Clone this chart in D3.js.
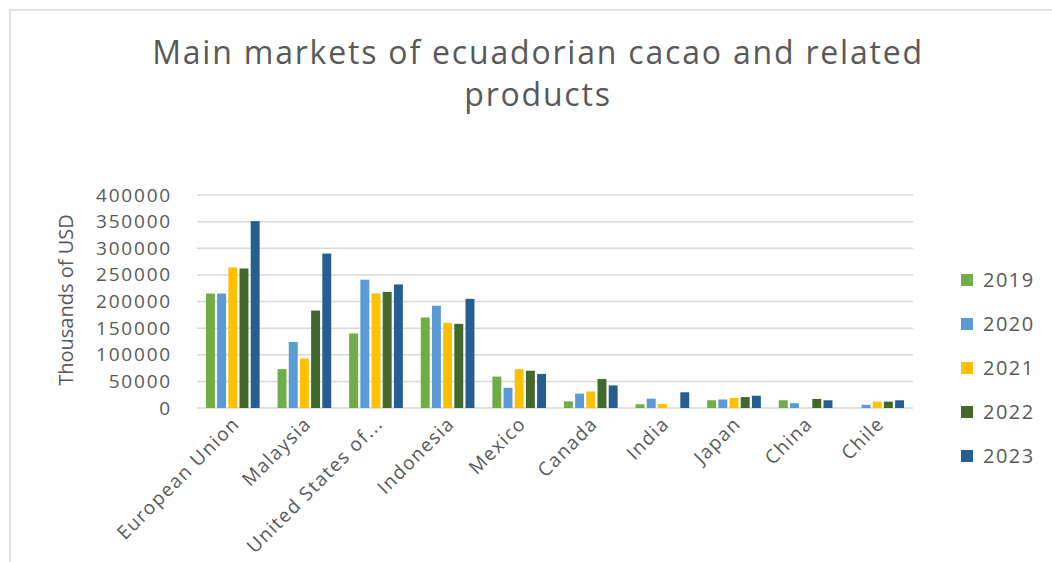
<!DOCTYPE html>
<html>
<head>
<meta charset="utf-8">
<script src="https://cdn.jsdelivr.net/npm/d3@7"></script>
<style>
  body { margin: 0; background: #fff; }
  text { font-family: "Open Sans", sans-serif; fill: #595959; }
</style>
</head>
<body>
<div id="chart"></div>
<script>
// data (thousands of USD)
const categories = ["European Union", "Malaysia", "United States of...", "Indonesia", "Mexico",
  "Canada", "India", "Japan", "China", "Chile"]
const years = ["2019", "2020", "2021", "2022", "2023"]
const v2019 = [215000, 73000, 140000, 170000, 59000, 12500, 7000, 14500, 14500, 0]
const v2020 = [215000, 124000, 241000, 192000, 38000, 27000, 17500, 16000, 9000, 6000]
const v2021 = [264000, 93000, 215000, 160000, 73000, 31000, 7500, 19000, 0, 12000]
const v2022 = [262000, 183000, 218000, 158000, 70000, 54500, 0, 20500, 17000, 12000]
const v2023 = [351000, 290000, 232000, 205000, 64000, 42500, 29500, 23000, 14500, 14500]
const yTicks = [0, 50000, 100000, 150000, 200000, 250000, 300000, 350000, 400000]
const colors = ["#70AD47", "#5B9BD5", "#FFC000", "#43682B", "#255E91"]

const seriesValues = [v2019, v2020, v2021, v2022, v2023]

const W = 1052, H = 562
const plot = { left: 197, right: 913, top: 195, bottom: 408 }

const svg = d3.select("#chart").append("svg")
  .attr("width", W)
  .attr("height", H)

// chart frame (only top and left edges are visible in the picture)
svg.append("path")
  .attr("d", `M10,${H} V10 H${W}`)
  .attr("fill", "none")
  .attr("stroke", "#d9d9d9")
  .attr("stroke-width", 1.5)

// title
const title = svg.append("text")
  .attr("text-anchor", "middle")
  .attr("font-size", 32)
  .attr("letter-spacing", 1.8)
title.append("tspan").attr("x", 538).attr("y", 64).text("Main markets of ecuadorian cacao and related")
title.append("tspan").attr("x", 538).attr("y", 106).text("products")

const x = d3.scaleBand()
  .domain(categories)
  .range([plot.left, plot.right])
  .paddingInner(0.25)
  .paddingOuter(0.125)

const xs = d3.scaleBand()
  .domain(years)
  .range([0, x.bandwidth()])
  .paddingInner(0.2)

const y = d3.scaleLinear()
  .domain([0, 400000])
  .range([plot.bottom, plot.top])

// grid lines
svg.append("g")
  .selectAll("line")
  .data(yTicks)
  .join("line")
  .attr("x1", plot.left)
  .attr("x2", plot.right)
  .attr("y1", d => y(d))
  .attr("y2", d => y(d))
  .attr("stroke", "#d9d9d9")
  .attr("stroke-width", 1.5)

// y axis labels
const yAxis = d3.axisLeft(y).tickValues(yTicks).tickFormat(d3.format("d")).tickSize(0).tickPadding(0)
const yG = svg.append("g")
  .attr("transform", "translate(172,0)")
  .call(yAxis)
yG.select(".domain").remove()
yG.selectAll("text")
  .attr("font-size", 19)
  .attr("letter-spacing", 1.8)
  .attr("font-family", "Open Sans")
  .attr("fill", "#595959")

svg.append("text")
  .attr("transform", "translate(73,300) rotate(-90)")
  .attr("text-anchor", "middle")
  .attr("font-size", 20)
  .text("Thousands of USD")

// bars
const groups = svg.append("g")
  .selectAll("g")
  .data(categories)
  .join("g")
  .attr("transform", d => `translate(${x(d)},0)`)

groups.selectAll("rect")
  .data((c, i) => years.map((yr, j) => ({ yr, j, v: seriesValues[j][i] })))
  .join("rect")
  .attr("x", d => xs(d.yr))
  .attr("width", xs.bandwidth())
  .attr("y", d => y(d.v))
  .attr("height", d => y(0) - y(d.v))
  .attr("fill", d => colors[d.j])

// x axis labels
const xAxis = d3.axisBottom(x).tickSize(0).tickPadding(0)
const xG = svg.append("g")
  .attr("transform", `translate(0,${plot.bottom})`)
  .call(xAxis)
xG.select(".domain").remove()
xG.selectAll("text")
  .attr("font-size", 19)
  .attr("letter-spacing", 1.4)
  .attr("font-family", "Open Sans")
  .attr("fill", "#595959")
  .attr("text-anchor", "end")
  .attr("dy", null)
  .attr("y", 0)
  .attr("transform", "translate(8,17) rotate(-45)")

// legend
const legend = svg.append("g")
  .selectAll("g")
  .data(years)
  .join("g")
  .attr("transform", (d, i) => `translate(961,${280 + i * 44})`)

legend.append("rect")
  .attr("x", 0)
  .attr("y", -6)
  .attr("width", 12)
  .attr("height", 12)
  .attr("fill", (d, i) => colors[i])

legend.append("text")
  .attr("x", 22)
  .attr("dy", "0.35em")
  .attr("font-size", 20)
  .attr("letter-spacing", 1.5)
  .text(d => d)
</script>
</body>
</html>
